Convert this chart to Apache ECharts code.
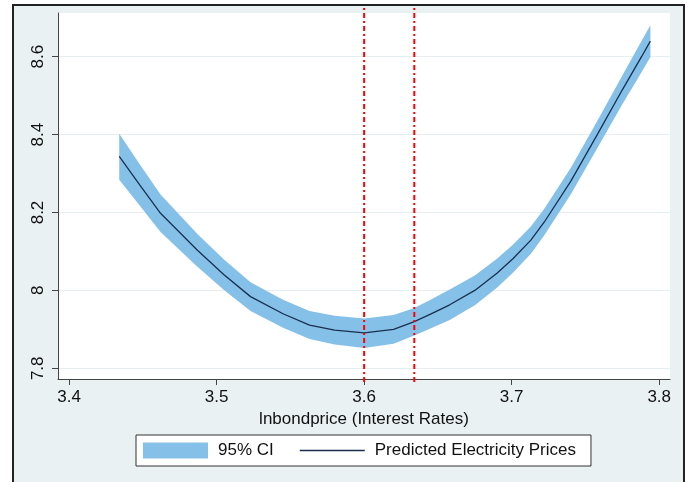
<!DOCTYPE html>
<html>
<head>
<meta charset="utf-8">
<script src="https://cdn.jsdelivr.net/npm/echarts@6/dist/echarts.min.js"></script>
<style>
html, body { margin: 0; padding: 0; background: #fff; }
#frame { position: absolute; left: 12px; top: 4px; width: 669px; height: 500px; background: #eaf1f3; border: 2px solid #222; border-bottom: none; }
#chart { position: absolute; left: 0; top: 0; width: 688px; height: 482px; }
</style>
</head>
<body>
<div id="frame"></div>
<div id="chart"></div>
<script>
// data
var xs = [3.434, 3.448, 3.462, 3.487, 3.505, 3.523, 3.545, 3.563, 3.58, 3.60, 3.62, 3.634, 3.645, 3.658, 3.675, 3.690, 3.701, 3.713, 3.722, 3.74, 3.758, 3.775, 3.788, 3.794];
var predicted = [8.344, 8.270, 8.198, 8.103, 8.040, 7.984, 7.940, 7.911, 7.898, 7.891, 7.900, 7.920, 7.939, 7.963, 8.000, 8.044, 8.082, 8.129, 8.175, 8.280, 8.400, 8.515, 8.600, 8.640];
var upper = [8.402, 8.323, 8.246, 8.145, 8.079, 8.021, 7.976, 7.947, 7.935, 7.928, 7.937, 7.955, 7.976, 8.002, 8.038, 8.081, 8.118, 8.164, 8.209, 8.314, 8.435, 8.552, 8.640, 8.681];
var lower = [8.284, 8.217, 8.150, 8.061, 8.001, 7.947, 7.904, 7.875, 7.861, 7.852, 7.863, 7.884, 7.902, 7.924, 7.962, 8.007, 8.046, 8.094, 8.141, 8.246, 8.365, 8.478, 8.560, 8.599];
var refLines = [3.6, 3.634];
var xTicks = [3.4, 3.5, 3.6, 3.7, 3.8];
var yTicks = [7.8, 8, 8.2, 8.4, 8.6];

var font = 'Liberation Sans, Arial, sans-serif';
var bandColor = '#85c0e9';
var lineColor = '#1b2f4d';

var bandData = xs.map(function (x, i) { return [x, lower[i], upper[i]]; });
var predPts = xs.map(function (x, i) { return [x, predicted[i]]; });

var series = [
    {
        //置信区间带
        name: '95% CI', type: 'custom', data: bandData, color: bandColor,
        encode: { x: 0, y: [1, 2] }, clip: true, silent: true, z: 2,
        renderItem: function (params, api) {
            if (params.dataIndex !== 0) return null;
            var pts = [];
            for (var i = 0; i < xs.length; i++) pts.push(api.coord([xs[i], upper[i]]));
            for (var j = xs.length - 1; j >= 0; j--) pts.push(api.coord([xs[j], lower[j]]));
            return { type: 'polygon', shape: { points: pts }, style: { fill: bandColor } };
        }
    },
    {
        name: 'Predicted Electricity Prices', type: 'line', data: predPts,
        symbol: 'none', showSymbol: false, color: lineColor,
        lineStyle: { color: lineColor, width: 1.3 }, silent: true, z: 3
    }
];
//红色参考线
refLines.forEach(function (x) {
    series.push({
        type: 'line', xAxisIndex: 1, yAxisIndex: 1, data: [[x, 0], [x, 1]],
        symbol: 'none', silent: true, z: 5,
        lineStyle: { color: '#ff0000', width: 2, type: [5, 3, 2, 3] }
    });
});

var chart = echarts.init(document.getElementById('chart'));
var option = {
    animation: false,
    textStyle: { fontFamily: font },
    grid: [
        { left: 58, right: 18, top: 13, bottom: 103, show: true, backgroundColor: '#fff', borderWidth: 0 },
        { left: 58, right: 18, top: 5, bottom: 100 }
    ],
    xAxis: [
        {
            type: 'value', min: 3.3925, max: 3.8073, gridIndex: 0,
            name: 'lnbondprice (Interest Rates)', nameLocation: 'middle', nameGap: 25,
            nameTextStyle: { fontSize: 17, color: '#111', fontFamily: font },
            axisLine: { show: true, lineStyle: { color: '#444', width: 1 } },
            axisTick: { show: true, length: 6, customValues: xTicks, lineStyle: { color: '#444' } },
            axisLabel: { customValues: xTicks, fontSize: 17, color: '#111', margin: 10, fontFamily: font },
            splitLine: { show: false }
        },
        { type: 'value', min: 3.3925, max: 3.8073, gridIndex: 1, show: false }
    ],
    yAxis: [
        {
            type: 'value', min: 7.7725, max: 8.7122, gridIndex: 0,
            axisLine: { show: true, lineStyle: { color: '#444', width: 1 } },
            axisTick: { show: true, length: 6, customValues: yTicks, lineStyle: { color: '#444' } },
            axisLabel: { customValues: yTicks, fontSize: 17, color: '#111', rotate: 90, margin: 11, fontFamily: font },
            splitLine: { show: true, lineStyle: { color: '#e6eef2', width: 1 } }
        },
        { type: 'value', min: 0, max: 1, gridIndex: 1, show: false }
    ],
    legend: {
        left: 136, top: 435,
        data: [
            { name: '95% CI', icon: 'rect', itemStyle: { color: bandColor } },
            { name: 'Predicted Electricity Prices', icon: 'path://M0,0H65V1.3H0Z', itemStyle: { color: lineColor } }
        ],
        itemWidth: 65, itemHeight: 16, itemGap: 26,
        backgroundColor: '#fff', borderColor: '#333', borderWidth: 1, borderRadius: 0,
        padding: [7, 15, 7, 7],
        textStyle: { fontSize: 17, color: '#111', fontFamily: font, padding: [0, 0, 0, 5] },
        selectedMode: false
    },
    series: series
};
chart.setOption(option);
window.addEventListener('resize', function () {
    chart.resize();
});
</script>
</body>
</html>
